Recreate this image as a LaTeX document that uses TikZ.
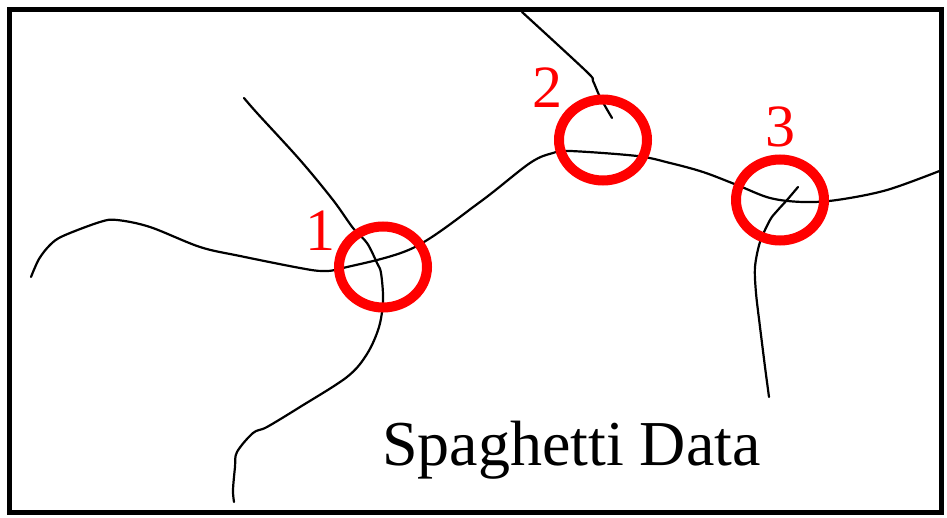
\documentclass[tikz,border=0pt]{standalone}
\usepackage{fontspec}
\setmainfont{Liberation Serif}
\usetikzlibrary{shapes.geometric}
\begin{document}
\begin{tikzpicture}[x=1pt,y=-1pt,
  strand/.style={draw=black,line width=2.2pt,line cap=round,line join=round},
  ring/.style={draw=red,line width=10pt,ellipse,minimum width=88pt,minimum height=81pt,inner sep=0pt},
  num/.style={text=red,font=\fontsize{60}{70}\selectfont,inner sep=0pt},
  frame/.style={draw=black,line width=5pt}]
\useasboundingbox (0,0) rectangle (947,518);
\fill[white] (0,0) rectangle (947,518);
\draw[frame] (9,10) rectangle (941,512);
% main strand
\draw[strand] plot[smooth,tension=0.55] coordinates {(31,277) (39,259) (50,245) (63,236) (100,222) (117,220) (150,227) (200,247) (240,256) (300,268) (323,271) (343,268) (413,248) (480,202) (530,163) (553,153) (570,151) (637,156) (670,163) (703,172) (737,185) (770,198) (803,202) (837,200) (887,190) (942,170)};
% strand through 1
\draw[strand] plot[smooth,tension=0.55] coordinates {(244,98) (257,113) (300,160) (333,200) (353,228) (367,243) (377,263) (381,273) (383,300) (379,327) (367,354) (347,377) (300,407) (267,427) (253,433) (237,452) (235,467) (233,490) (234,502)};
% strand into 2
\draw[strand] plot[smooth,tension=0.5] coordinates {(522,12) (587,72) (593,81) (600,97) (612,118)};
% strand from 3
\draw[strand] plot[smooth,tension=0.5] coordinates {(798,187) (787,200) (777,211) (770,220) (760,242) (755,267) (756,293) (760,327) (765,367) (769,397)};
\node[ring] (r1) at (383,267) {};
\node[ring] (r2) at (603,140) {};
\node[ring] (r3) at (780,200) {};
\node[num] (n1) at (320,231) {1};
\node[num] (n2) at (547,88) {2};
\node[num] (n3) at (780,127) {3};
\node[anchor=base west,inner sep=0pt,font=\fontsize{64}{76}\selectfont] (t) at (382,465) {Spaghetti Data};
\end{tikzpicture}
\end{document}
